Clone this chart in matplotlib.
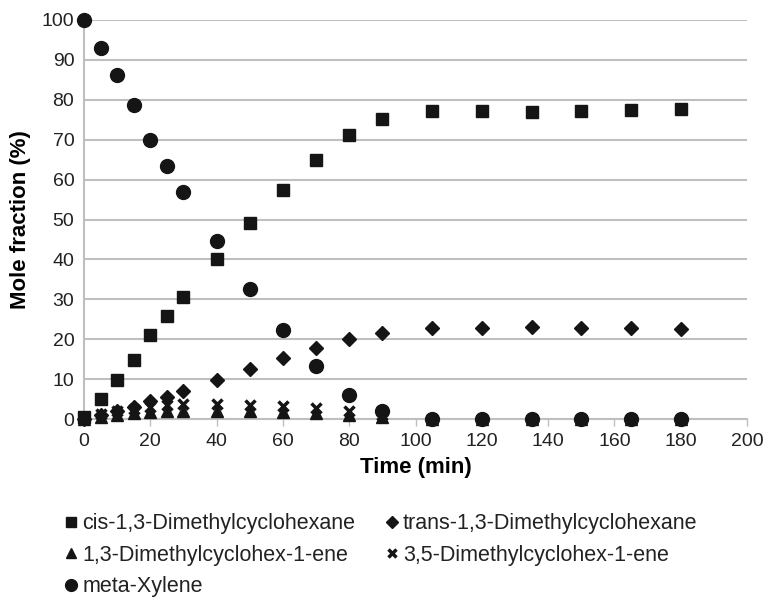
import matplotlib
matplotlib.use("Agg")
import matplotlib.pyplot as plt

plt.rcParams['font.family'] = ['Liberation Sans', 'DejaVu Sans']

time = [0, 5, 10, 15, 20, 25, 30, 40, 50, 60, 70, 80, 90, 105, 120, 135, 150, 165, 180]
cis = [0.5, 5.0, 9.8, 14.8, 21.0, 25.8, 30.5, 40.0, 49.0, 57.5, 65.0, 71.2, 75.1, 77.2, 77.3, 77.0, 77.3, 77.4, 77.6]
trans = [0.0, 1.0, 2.0, 3.0, 4.5, 5.6, 7.0, 9.7, 12.5, 15.2, 17.9, 20.0, 21.6, 22.8, 22.8, 23.0, 22.8, 22.7, 22.5]
ene13 = [0.0, 0.5, 1.0, 1.5, 1.8, 2.0, 2.0, 2.0, 2.0, 1.8, 1.5, 1.0, 0.5, 0.0, 0.0, 0.0, 0.0, 0.0, 0.0]
ene35 = [0.0, 1.2, 2.0, 2.5, 3.0, 3.5, 3.8, 3.8, 3.5, 3.2, 2.8, 2.0, 1.0, 0.0, 0.0, 0.0, 0.0, 0.0, 0.0]
mxyl = [100.0, 93.0, 86.2, 78.8, 70.0, 63.3, 57.0, 44.7, 32.7, 22.2, 13.3, 6.0, 2.0, 0.0, 0.0, 0.0, 0.0, 0.0, 0.0]

labels = ['cis-1,3-Dimethylcyclohexane', 'trans-1,3-Dimethylcyclohexane',
          '1,3-Dimethylcyclohex-1-ene', '3,5-Dimethylcyclohex-1-ene', 'meta-Xylene']

xticks = list(range(0, 201, 20))
yticks = list(range(0, 101, 10))

col = '#151515'
fig = plt.figure(figsize=(7.65, 6.0), dpi=100)
ax = fig.add_axes([84/765, 1-419/600, (747-84)/765, (419-20)/600])

h_cis, = ax.plot(time, cis, 's', color=col, ms=8, ls='none', clip_on=False, zorder=3)
h_tr, = ax.plot(time, trans, 'D', color=col, ms=7.5, ls='none', clip_on=False, zorder=3)
h_e13, = ax.plot(time, ene13, '^', color=col, ms=8, ls='none', clip_on=False, zorder=3)
h_e35, = ax.plot(time, ene35, 'x', color=col, ms=7, mew=2.5, ls='none', clip_on=False, zorder=3)
h_mx, = ax.plot(time, mxyl, 'o', color=col, ms=10, ls='none', clip_on=False, zorder=3)

ax.set_xlim(0, 200)
ax.set_ylim(0, 100)
ax.set_xticks(xticks)
ax.set_yticks(yticks)
ax.tick_params(axis='both', labelsize=14, colors='#333333', labelcolor='#222222')
ax.tick_params(axis='y', length=0, pad=7)
ax.tick_params(axis='x', length=5, width=1, color='#bfbfbf', pad=5)
ax.grid(axis='y', color='#bfbfbf', lw=1.5)
ax.set_axisbelow(True)
for s in ['top', 'right']:
    ax.spines[s].set_visible(False)
for s in ['left', 'bottom']:
    ax.spines[s].set_color('#bfbfbf')
    ax.spines[s].set_linewidth(1.5)

ax.set_xlabel('Time (min)', fontsize=16, fontweight='bold', labelpad=5)
ax.set_ylabel('Mole fraction (%)', fontsize=16, fontweight='bold', labelpad=8)

handles = [h_cis, h_e13, h_mx, h_tr, h_e35]
labs = [labels[0], labels[2], labels[4], labels[1], labels[3]]
leg = fig.legend(handles, labs, ncol=2, loc='upper left', bbox_to_anchor=(46/765, 1-494/600),
                 frameon=False, fontsize=15.5, handlelength=0.55, handletextpad=0.25,
                 columnspacing=1.4, labelspacing=0.48, markerscale=0.85)
for t in leg.get_texts():
    t.set_color('#222222')

fig.savefig('out.png', dpi=100)
